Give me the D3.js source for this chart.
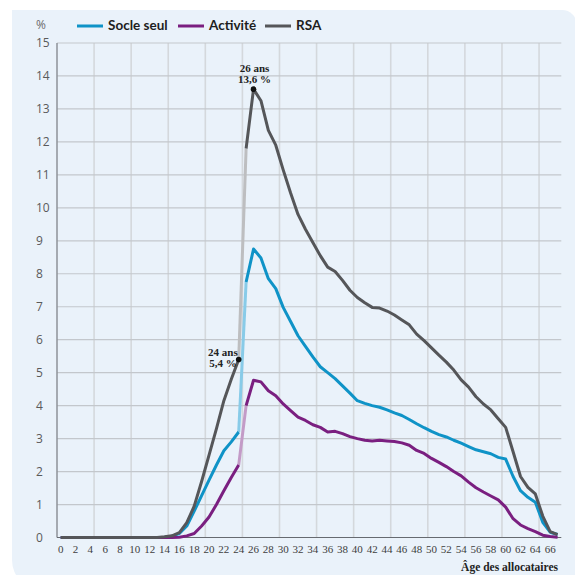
<!DOCTYPE html>
<html><head><meta charset="utf-8">
<script src="https://cdn.jsdelivr.net/npm/d3@7"></script>
<style>html,body{margin:0;padding:0;background:#fff;}svg{display:block;}</style>
</head><body>
<div id="chart"></div>
<script>
const ages = [0,1,2,3,4,5,6,7,8,9,10,11,12,13,14,15,16,17,18,19,20,21,22,23,24,25,26,27,28,29,30,31,32,33,34,35,36,37,38,39,40,41,42,43,44,45,46,47,48,49,50,51,52,53,54,55,56,57,58,59,60,61,62,63,64,65,66,67];
const socleSeul = [0,0,0,0,0,0,0,0,0,0,0,0,0,0,0.01,0.04,0.12,0.35,0.8,1.27,1.74,2.2,2.63,2.9,3.2,7.75,8.75,8.48,7.85,7.55,6.98,6.55,6.12,5.8,5.48,5.18,5.0,4.82,4.6,4.38,4.15,4.07,4.0,3.95,3.87,3.78,3.7,3.58,3.45,3.33,3.22,3.12,3.05,2.95,2.86,2.76,2.66,2.6,2.54,2.43,2.38,1.85,1.42,1.22,1.07,0.46,0.16,0.09];
const activite = [0,0,0,0,0,0,0,0,0,0,0,0,0,0,0,0,0.01,0.05,0.12,0.35,0.62,1.0,1.42,1.82,2.2,4.0,4.77,4.72,4.45,4.3,4.05,3.85,3.65,3.55,3.42,3.34,3.2,3.22,3.15,3.06,3.0,2.95,2.93,2.95,2.93,2.91,2.87,2.8,2.64,2.55,2.4,2.28,2.15,2.0,1.87,1.68,1.51,1.38,1.26,1.14,0.92,0.57,0.38,0.27,0.18,0.07,0.03,0.01];
const rsa = [0,0,0,0,0,0,0,0,0,0,0,0,0,0,0.02,0.05,0.15,0.45,0.95,1.7,2.5,3.3,4.15,4.8,5.4,11.8,13.6,13.25,12.35,11.9,11.15,10.45,9.8,9.35,8.95,8.55,8.2,8.07,7.8,7.5,7.28,7.12,6.98,6.96,6.87,6.75,6.6,6.45,6.17,5.97,5.75,5.53,5.32,5.08,4.78,4.56,4.27,4.05,3.87,3.6,3.34,2.6,1.85,1.52,1.32,0.65,0.18,0.09];
const xTickLabels = [0,2,4,6,8,10,12,14,16,18,20,22,24,26,28,30,32,34,36,38,40,42,44,46,48,50,52,54,56,58,60,62,64,66];
const yTickLabels = [0,1,2,3,4,5,6,7,8,9,10,11,12,13,14,15];
const seriesNames = ["Socle seul","Activité","RSA"];
const annotations = [{age:26, value:13.6, l1:"26 ans", l2:"13,6 %"},{age:24, value:5.4, l1:"24 ans", l2:"5,4 %"}];
const breakAge = 24;

const W = 575, H = 575;
const svg = d3.select("#chart").append("svg").attr("width", W).attr("height", H);

// panel
svg.append("path")
  .attr("d", "M12,10 H562 A15,15 0 0 1 577,25 V590 H42 A30,30 0 0 1 12,560 Z")
  .attr("fill", "#eaf2fa");

const x = d3.scaleLinear().domain([-0.5, 67.5]).range([57, 561.3]);
const y = d3.scaleLinear().domain([0, 15]).range([537.5, 43]);

const g = svg.append("g");
const vgrid = [4.5,9.5,14.5,19.5,24.5,29.5,34.5,39.5,44.5,49.5,54.5,59.5,64.5];
g.selectAll(".vg").data(vgrid).enter().append("line")
  .attr("x1", d => x(d)).attr("x2", d => x(d))
  .attr("y1", y(15)).attr("y2", y(0))
  .attr("stroke", "#d4d8dc").attr("stroke-width", 1.6);
g.selectAll(".hg").data(yTickLabels.filter(d => d > 0)).enter().append("line")
  .attr("x1", x(-0.5)).attr("x2", x(67.5))
  .attr("y1", d => y(d)).attr("y2", d => y(d))
  .attr("stroke", "#c3c7cc").attr("stroke-width", 1.2);

g.append("line").attr("x1", x(-0.5)).attr("x2", x(-0.5)).attr("y1", y(15)).attr("y2", y(0))
  .attr("stroke", "#8e9298").attr("stroke-width", 1.5);
g.append("line").attr("x1", x(-0.5)).attr("x2", x(67.5)).attr("y1", y(0)).attr("y2", y(0))
  .attr("stroke", "#666a70").attr("stroke-width", 1.2);

g.selectAll(".yt").data(yTickLabels).enter().append("text")
  .attr("x", 36).attr("y", d => y(d)).attr("dy", "0.36em")
  .attr("font-family", "Open Sans, sans-serif").attr("font-size", 12)
  .attr("fill", "#5a5a5a").text(d => d);
g.selectAll(".xt").data(xTickLabels).enter().append("text")
  .attr("x", d => x(d)).attr("y", 553).attr("text-anchor", "middle")
  .attr("font-family", "Liberation Serif, serif").attr("font-size", 11)
  .attr("fill", "#3e3e3e").text(d => d);
svg.append("text").attr("x", 36).attr("y", 29)
  .attr("font-family", "Open Sans, sans-serif").attr("font-size", 12)
  .attr("fill", "#6a6a6a").text("%");
svg.append("text").attr("x", 558).attr("y", 571).attr("text-anchor", "end")
  .attr("font-family", "Liberation Serif, serif").attr("font-weight", "bold").attr("font-size", 11.5)
  .attr("fill", "#222").text("Âge des allocataires");

const series = [
  {name: seriesNames[0], values: socleSeul, color: "#0f93c7", light: "#88cbe8"},
  {name: seriesNames[1], values: activite, color: "#7a1f80", light: "#c39bc7"},
  {name: seriesNames[2], values: rsa, color: "#555659", light: "#bdbec0"}
];
const line = d3.line().x(d => x(d[0])).y(d => y(d[1]));
series.forEach(s => {
  const pts = ages.map((a, i) => [a, s.values[i]]);
  const before = pts.filter(p => p[0] <= breakAge);
  const mid = pts.filter(p => p[0] >= breakAge && p[0] <= breakAge + 1);
  const after = pts.filter(p => p[0] >= breakAge + 1);
  [[mid, s.light], [before, s.color], [after, s.color]].forEach(([d, c]) => {
    g.append("path").datum(d).attr("d", line)
      .attr("fill", "none").attr("stroke", c).attr("stroke-width", 3)
      .attr("stroke-linejoin", "round").attr("stroke-linecap", "butt");
  });
});

annotations.forEach((a, i) => {
  g.append("circle").attr("cx", x(a.age)).attr("cy", y(a.value)).attr("r", 2.8).attr("fill", "#111");
  const t = g.append("text").attr("font-family", "Liberation Serif, serif").attr("font-weight", "bold")
    .attr("font-size", 11).attr("fill", "#222");
  if (i === 0) {
    t.attr("text-anchor", "middle");
    t.append("tspan").attr("x", x(a.age) + 1).attr("y", y(a.value) - 17).text(a.l1);
    t.append("tspan").attr("x", x(a.age) + 1).attr("y", y(a.value) - 6).text(a.l2);
  } else {
    t.attr("text-anchor", "end");
    t.append("tspan").attr("x", x(a.age) - 1).attr("y", y(a.value) - 3).text(a.l1);
    t.append("tspan").attr("x", x(a.age) - 2).attr("y", y(a.value) + 8).text(a.l2);
  }
});

const legX = [77, 178, 265];
series.forEach((s, i) => {
  svg.append("line").attr("x1", legX[i]).attr("x2", legX[i] + 26).attr("y1", 26).attr("y2", 26)
    .attr("stroke", s.color).attr("stroke-width", 3);
  svg.append("text").attr("x", legX[i] + 31).attr("y", 30)
    .attr("font-family", "Lato, sans-serif").attr("font-weight", "bold").attr("font-size", 13.5)
    .attr("fill", "#1e1e1e").text(s.name);
});
</script>
</body></html>
